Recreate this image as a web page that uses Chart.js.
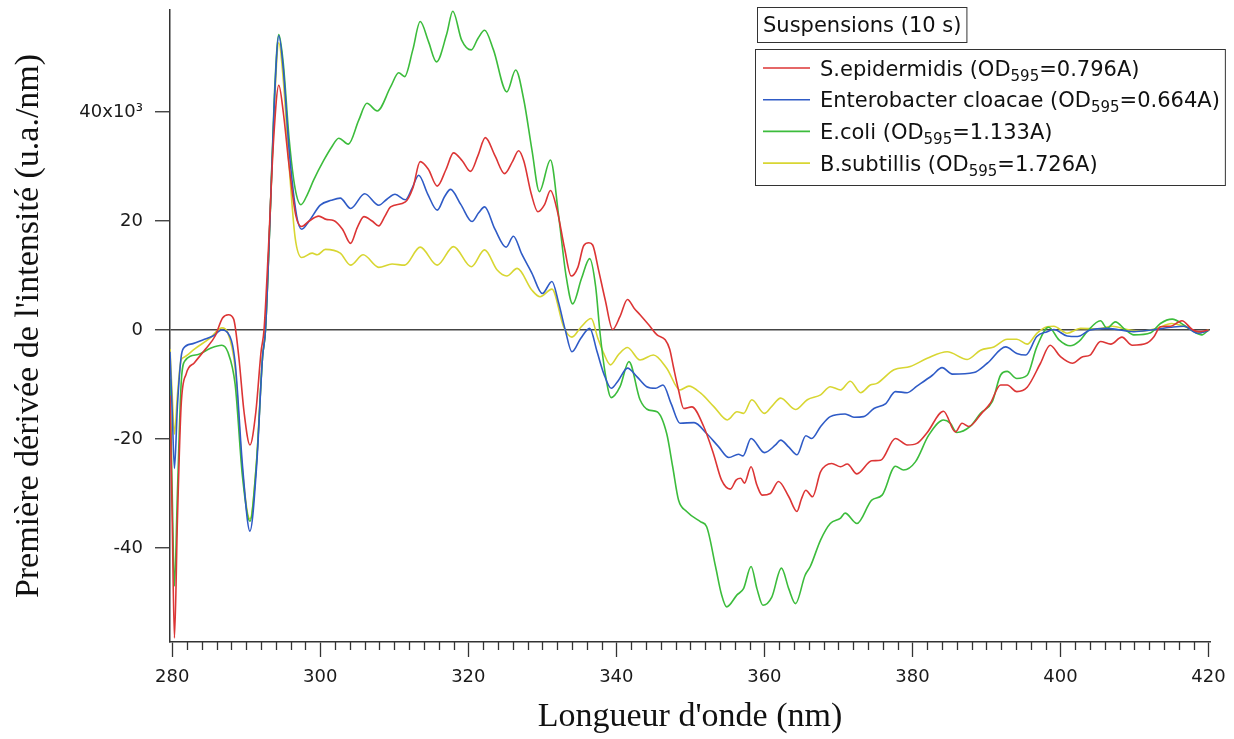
<!DOCTYPE html>
<html><head><meta charset="utf-8">
<script src="https://cdn.jsdelivr.net/npm/chart.js@4/dist/chart.umd.min.js"></script>
<style>html,body{margin:0;padding:0;background:#fff;}#wrap{width:1234px;height:739px;position:relative;}</style>
</head><body><div id="wrap"><canvas id="c" width="1234" height="739"></canvas></div>
<script>
// ---- data (y in units of 10^3 u.a./nm) ----
const seriesNames = ['S.epidermidis', 'Enterobacter cloacae', 'E.coli', 'B.subtillis'];
const odValues = ['0.796A', '0.664A', '1.133A', '1.726A'];
const legendTitle = 'Suspensions (10 s)';
const xTickValues = [280, 300, 320, 340, 360, 380, 400, 420];
const yTickValues = [-40, -20, 0, 20, 40];

const redX = [279.7,280.0,280.3,280.7,281.2,281.9,283,284.5,285.8,286.8,287.6,288.3,289,289.7,290.5,291.3,292,292.4,293,293.7,294.4,295,295.8,296.7,297.5,298.5,299.8,300.8,301.8,303,304.1,305,305.9,307,307.9,308.7,309.5,311.5,312.5,313.5,314.6,315.8,317,318,319.2,320.3,321.3,322.3,323.6,324.9,326,326.8,327.5,328.5,329.4,330.3,331.1,332,333,333.9,334.8,335.6,336.3,336.8,337.6,338.5,339.5,340.5,341.5,342.4,343.2,344.4,345.5,346.6,347.2,347.7,348.4,349.1,350.2,351.8,353.1,354.2,355.4,356.2,356.8,357.3,358.2,359,359.7,360.8,361.9,363.3,364.4,365,365.6,366.5,367.6,369.1,370.3,371.2,372.5,374.5,375.7,377.7,379.3,380.6,382,384.2,385.8,386.7,387.6,389.4,390.5,391.9,392.8,394.1,395.5,397.3,398.6,400,401.6,403,404,405.4,406.8,408.3,409.7,411.7,412.6,413.5,414.9,416.4,417.8,418.7,420];
const redY = [-12,-35,-56.5,-35,-14,-8,-6,-3.5,-1.1,2.2,2.8,2,-5,-15,-21.1,-15,-4,0,15,35,44.9,40,30,21,19,20,20.9,20.3,20.1,18.5,15.9,18.8,20.8,20,19.1,20.8,22.6,23.5,26,30.9,29.5,26.4,29.5,32.5,31,29.1,32,35.3,32,28.7,31,32.9,31,25,21.7,23,25.6,22,15,9.9,11.5,15.5,16,15.6,11,5.5,0.1,2.5,5.6,4,2.8,0.9,-0.9,-1.8,-3.5,-6.7,-11,-14.4,-14.1,-17.7,-22.6,-27.5,-29.2,-27.5,-27.2,-28.1,-25.1,-28.5,-30.3,-30,-27.8,-30.6,-33.3,-31,-29.4,-30.6,-26,-24.5,-25.1,-24.6,-26.4,-24,-23.9,-19.9,-21.1,-20.8,-18.8,-14.9,-18.7,-17.1,-17.7,-15.2,-13.5,-10.1,-10.1,-11.3,-10.5,-6.1,-2.8,-4.9,-6.1,-4.9,-4.6,-2.1,-2.6,-1.3,-2.8,-2.4,-1.3,0.6,0.7,1.7,0.1,-0.3,0];

const blueX = [279.7,280.0,280.3,280.7,281.2,281.5,282.8,284.2,285.5,286.7,287.5,288.5,289.5,290.5,291.4,292.2,292.6,293.2,293.8,294.4,295,295.8,296.8,297.5,298.5,300,301.5,302.7,304.1,306,307.9,309,310.1,311.5,312.4,313.3,314.5,315.8,316.8,317.6,319,320.5,321.4,322.2,323.6,325.1,326.1,327.2,328.6,330,331.3,332.2,333.1,334,335.2,336.4,337.4,338.3,339.3,340.3,341.5,342.8,344.1,345.3,346.3,347.4,348.6,350.5,352.2,353.8,355.2,356.5,357.1,358.2,360,361.5,362.2,363.3,364.4,365.6,366.4,367.6,368.9,370.9,372.1,373.4,374.8,376.4,377.7,379.3,380.6,382.7,384,385.4,388.3,390.1,392.6,394.1,395.3,396.8,398.2,399.1,400.9,402.3,404,406.3,409.9,412.2,414.9,416.7,418.5,420];
const blueY = [-4,-15,-25.4,-14,-5,-3.4,-2.5,-1.8,-1.1,0,-0.5,-6,-25,-36.9,-25,-5,0,20,42,54,48,33,21,18.5,20,22.9,23.8,24.2,22.3,25,22.9,24,24.9,23.9,26,28.4,25,22,24.5,25.8,23,19.9,21.5,22.6,18.5,15.2,17.2,14,10.4,6.7,8.9,5,0,-4,-1.5,0.3,-4,-8,-10.7,-9.2,-7,-8.6,-10.4,-10.7,-10.1,-13.5,-17.1,-17,-19,-21.4,-23.4,-22.8,-23.1,-19.9,-22.5,-21.1,-20.2,-21.5,-22.9,-19.4,-19.9,-17.7,-15.9,-15.4,-16,-15.9,-14.4,-13.5,-11.3,-11.5,-10.3,-8.3,-6.9,-8.1,-7.8,-6.1,-3.1,-4.3,-4.6,-1.2,-0.3,0.1,-1.1,-1.2,0,0.3,-0.3,0,0.5,0.7,-0.6,-0.1];

const greenX = [279.7,280.0,280.3,280.7,281.2,281.7,283.5,285.1,286.7,287.5,288.5,289.5,290.5,291.4,292.2,292.6,293.2,293.8,294.4,295,295.8,296.6,297.4,298.3,299.1,300.5,301.5,302.5,303.8,305.2,306.3,307.7,309.5,310.6,311.4,312.5,313.5,314.6,315.7,317.1,317.9,319.1,320.4,321.3,322.2,323.4,325.2,326.4,327.5,328.6,329.6,331.1,332.2,333.2,334.1,335.3,336.4,337.2,337.8,338.5,339.3,340.5,341.7,343.2,344.4,345.5,346.8,347.6,348.4,349.5,351.4,352.2,353.4,354.2,354.9,356.3,357.2,358.2,359,359.8,361,362.3,363.3,364.2,365.5,366.2,367.6,368.9,370.3,370.9,372.5,374.5,375.9,377.7,378.8,380.4,382.2,384.2,385.1,386,387.8,389.2,390.8,391.9,392.8,394.1,395.5,396.8,398.4,399.8,401.3,402.5,403.6,405.4,406.3,407.4,408.8,409.9,412.2,413.5,415.1,416.7,418,419.1,420];
const greenY = [-9,-30,-47,-30,-10,-5.7,-4.5,-3.4,-2.8,-4,-10,-27,-35.1,-24,-5,0,20,43,54.2,49,35,26,23,25,27.5,31.2,33.5,35.2,34.1,38.5,41.6,40.2,44.6,47.2,46.5,51.4,56.6,53,49.2,54.4,58.5,53.2,51.4,53.5,55,51.4,43.7,47.7,42.2,33,25.4,31.2,21,10,4.8,9.5,13.1,8,-0.6,-8,-12.4,-10.4,-5.8,-12.8,-14.7,-15,-19,-25,-31.2,-33.3,-35.2,-36.1,-43.4,-48.5,-50.8,-48.6,-47.4,-43.4,-47.5,-50.5,-49,-43.7,-47.5,-50.2,-45,-43.4,-38.5,-35.5,-34.5,-33.6,-35.5,-31.2,-30.3,-25,-25.7,-24.2,-19.3,-16.5,-17.1,-18.8,-17.7,-15.3,-13.1,-8.3,-7.6,-8.9,-8.3,-3.1,0.5,-1.8,-2.9,-2.1,-0.3,1.7,0.3,1.5,0,-0.9,-0.5,1.2,2,0.9,-0.3,-0.9,0];

const yellowX = [279.7,280.0,280.3,280.7,281.2,281.6,283,285.1,286.7,287.5,288.5,289.5,290.5,291.4,292.2,292.6,293.2,293.8,294.4,295,295.8,296.6,297.5,298.9,299.6,300.7,302.7,304.1,305.8,307.9,309.7,311.4,313.5,315.8,318,320.4,322.2,323.9,325.2,326.6,328.6,329.7,331.3,332.9,334,335.2,336.6,337.5,338.3,339.2,340.3,341.5,343.2,345,346.8,348.6,349.8,351.4,353.2,355,356.3,357.2,358.3,360,361,362.2,364.2,365.8,367.6,368.9,370.3,371.6,373,374.3,375.2,377.5,379.7,382,384.7,387.4,389.2,391,392.8,394.1,395.5,396.8,398.2,399.1,400.9,402.7,405,407,409,411,413,415,417,418.8,420];
const yellowY = [-3.5,-12,-19.1,-12,-5.5,-5,-3.5,-1.5,0.4,-0.5,-7,-26,-34.7,-24,-5,0,20,41,52.7,46,30,17,13.3,14.1,13.8,14.8,14.1,11.9,13.8,11.5,12.1,11.9,15.2,11.9,15.3,11.6,14.7,11,9.9,11.3,7.3,6.1,7.5,0.5,-1.3,0.5,2.1,-1.5,-4.3,-6.4,-4.5,-3.2,-5.5,-4.6,-7,-11,-10.3,-11.6,-14.1,-16.5,-15,-15.3,-12.8,-15.3,-14,-12.5,-14.6,-12.8,-11.9,-10.4,-11,-9.4,-11.5,-10.1,-9.8,-7.3,-6.7,-5.2,-4,-5.4,-3.7,-3.1,-1.7,-1.7,-2.6,-0.6,0.6,0.7,-0.6,0.3,0.2,0.7,0.1,-0.2,0.3,1.2,0.5,-0.5,0];

const seriesX = [redX, blueX, greenX, yellowX];
const seriesY = [redY, blueY, greenY, yellowY];
const seriesColors = ['#dc3535', '#2f5bc6', '#3cbc3c', '#d8d632'];

const FONT = '"DejaVu Sans", "Noto Sans", sans-serif';
const SERIF = '"Liberation Serif", "DejaVu Serif", serif';

const datasets = seriesNames.map((n, i) => ({
  label: n,
  data: seriesX[i].map((x, k) => ({x: x, y: seriesY[i][k]})),
  borderColor: seriesColors[i],
  backgroundColor: seriesColors[i],
  borderWidth: 1.6,
  pointRadius: 0,
  fill: false,
  cubicInterpolationMode: 'monotone'
}));

const minorTicksPlugin = {
  id: 'minorTicks',
  afterDraw(chart) {
    const xs = chart.scales.x; const ctx = chart.ctx;
    ctx.save();
    ctx.strokeStyle = '#333'; ctx.lineWidth = 1.3;
    const y0 = chart.chartArea.bottom;
    for (let v = 280; v <= 420; v += 2) {
      if (v % 20 === 0) continue;
      const px = Math.round(xs.getPixelForValue(v)) + 0.5;
      ctx.beginPath(); ctx.moveTo(px, y0); ctx.lineTo(px, y0 + 8); ctx.stroke();
    }
    ctx.restore();
  }
};

const legendPlugin = {
  id: 'boxLegend',
  afterDraw(chart) {
    const ctx = chart.ctx;
    ctx.save();
    const fs = 21, sub = 15;
    ctx.font = fs + 'px ' + FONT;
    ctx.fillStyle = '#111';
    ctx.strokeStyle = '#333';
    ctx.lineWidth = 1;
    ctx.textBaseline = 'alphabetic';
    // title box
    const tw = ctx.measureText(legendTitle).width;
    ctx.strokeRect(757.5, 7.5, tw + 11, 35);
    ctx.fillText(legendTitle, 763, 32);
    // entries
    const textX = 820, rowY0 = 68, rowH = 31.7;
    let maxW = 0;
    const parts = chart.data.datasets.map((ds, i) => {
      const a = ds.label + ' (OD', b = '595', c = '=' + odValues[i] + ')';
      ctx.font = fs + 'px ' + FONT; const wa = ctx.measureText(a).width; const wc = ctx.measureText(c).width;
      ctx.font = sub + 'px ' + FONT; const wb = ctx.measureText(b).width;
      maxW = Math.max(maxW, wa + wb + wc);
      return {a, b, c, wa, wb};
    });
    ctx.strokeRect(755.5, 49.5, textX - 755 + maxW + 5, 136);
    chart.data.datasets.forEach((ds, i) => {
      const y = rowY0 + i * rowH;
      ctx.strokeStyle = ds.borderColor; ctx.lineWidth = 1.6;
      ctx.beginPath(); ctx.moveTo(763, y); ctx.lineTo(810, y); ctx.stroke();
      const p = parts[i];
      ctx.font = fs + 'px ' + FONT; ctx.fillText(p.a, textX, y + 7.5);
      ctx.font = sub + 'px ' + FONT; ctx.fillText(p.b, textX + p.wa, y + 12.5);
      ctx.font = fs + 'px ' + FONT; ctx.fillText(p.c, textX + p.wa + p.wb, y + 7.5);
    });
    ctx.restore();
  }
};

new Chart(document.getElementById('c'), {
  type: 'line',
  data: { datasets: datasets },
  plugins: [minorTicksPlugin, legendPlugin],
  options: {
    responsive: false,
    devicePixelRatio: 1,
    animation: false,
    layout: { padding: { left: 0, right: 24, top: 10, bottom: 0 } },
    plugins: { legend: { display: false }, tooltip: { enabled: false } },
    scales: {
      x: {
        type: 'linear', position: 'bottom', min: 279.7, max: 420.2,
        afterFit(s) { s.height = 97; s.paddingLeft = 0; s.paddingRight = 0; },
        afterBuildTicks(s) { s.ticks = xTickValues.map(v => ({value: v})); },
        border: { display: true, color: '#333', width: 1.5 },
        grid: { display: true, drawOnChartArea: false, drawTicks: true, tickLength: 15, tickColor: '#333', tickWidth: 1.3 },
        ticks: { autoSkip: false, maxRotation: 0, color: '#1a1a1a', font: { family: FONT, size: 18 }, padding: 10 },
        title: { display: true, text: "Longueur d'onde (nm)", color: '#111', font: { family: SERIF, size: 34 }, padding: { top: 0, bottom: 1.4 } }
      },
      y: {
        type: 'linear', position: 'left', min: -57.25, max: 58.72,
        afterFit(s) { s.width = 170; s.paddingTop = 0; s.paddingBottom = 0; },
        afterBuildTicks(s) { s.ticks = yTickValues.map(v => ({value: v})); },
        border: { display: true, color: '#333', width: 1.5 },
        grid: {
          display: true, drawOnChartArea: true, drawTicks: true, tickLength: 15,
          color: (c) => (c.tick && c.tick.value === 0) ? '#444' : 'rgba(0,0,0,0)',
          lineWidth: 1.5, tickColor: '#333', tickWidth: 1.3
        },
        ticks: {
          color: '#1a1a1a', font: { family: FONT, size: 18 }, padding: 12,
          callback: (v) => v === 40 ? '40x10\u00B3' : String(v)
        },
        title: { display: true, text: "Première dérivée de l'intensité (u.a./nm)", color: '#111', font: { family: SERIF, size: 34 }, padding: { top: 8.4, bottom: 0 } }
      }
    }
  }
});
</script></body></html>
